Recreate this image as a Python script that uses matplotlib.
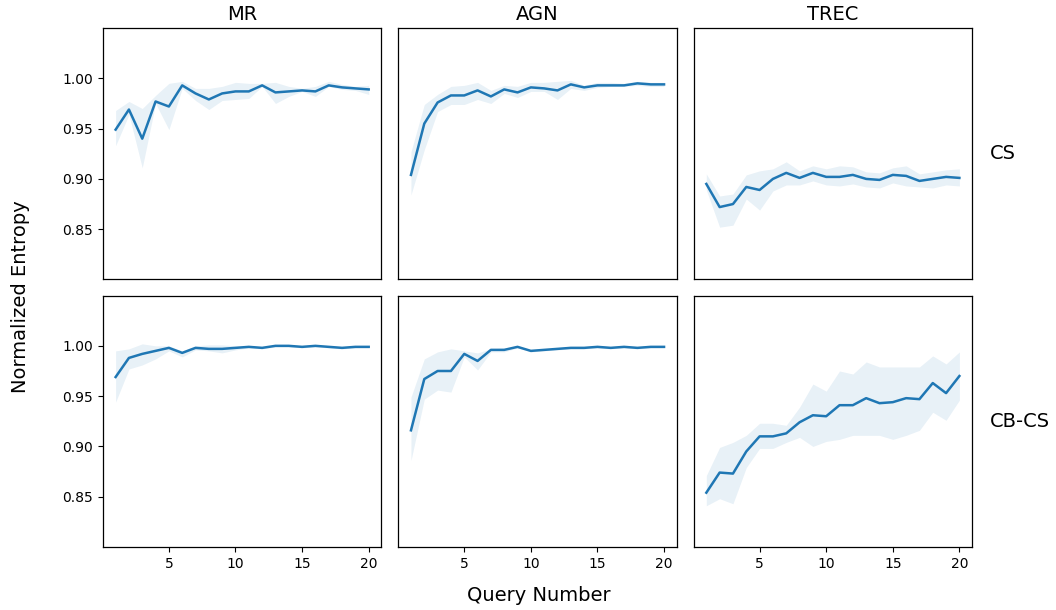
import numpy as np
import matplotlib
matplotlib.use("Agg")
import matplotlib.pyplot as plt

queries = list(range(1, 21))
datasets = ["MR", "AGN", "TREC"]
methods = ["CS", "CB-CS"]

# CS row
mr_cs_mean = [0.949, 0.969, 0.940, 0.977, 0.972, 0.993, 0.985, 0.979, 0.985, 0.987,
              0.987, 0.993, 0.986, 0.987, 0.988, 0.987, 0.993, 0.991, 0.990, 0.989]
mr_cs_low = [0.933, 0.964, 0.911, 0.975, 0.949, 0.990, 0.978, 0.969, 0.978, 0.979,
             0.980, 0.992, 0.975, 0.982, 0.987, 0.982, 0.992, 0.989, 0.988, 0.984]
mr_cs_high = [0.968, 0.977, 0.970, 0.983, 0.995, 0.997, 0.990, 0.990, 0.992, 0.996,
              0.995, 0.995, 0.996, 0.992, 0.990, 0.992, 0.997, 0.994, 0.992, 0.993]

agn_cs_mean = [0.904, 0.955, 0.976, 0.983, 0.983, 0.988, 0.982, 0.989, 0.986, 0.991,
               0.990, 0.988, 0.994, 0.991, 0.993, 0.993, 0.993, 0.995, 0.994, 0.994]
agn_cs_low = [0.884, 0.929, 0.967, 0.974, 0.974, 0.979, 0.975, 0.985, 0.981, 0.987,
              0.987, 0.979, 0.990, 0.988, 0.991, 0.992, 0.992, 0.993, 0.992, 0.992]
agn_cs_high = [0.927, 0.974, 0.984, 0.992, 0.993, 0.996, 0.988, 0.993, 0.992, 0.996,
               0.996, 0.997, 0.998, 0.993, 0.996, 0.996, 0.995, 0.997, 0.996, 0.996]

trec_cs_mean = [0.895, 0.872, 0.875, 0.892, 0.889, 0.900, 0.906, 0.901, 0.906, 0.902,
                0.902, 0.904, 0.900, 0.899, 0.904, 0.903, 0.898, 0.900, 0.902, 0.901]
trec_cs_low = [0.889, 0.852, 0.854, 0.880, 0.869, 0.888, 0.894, 0.894, 0.898, 0.894,
               0.893, 0.895, 0.892, 0.891, 0.896, 0.893, 0.892, 0.891, 0.894, 0.893]
trec_cs_high = [0.905, 0.883, 0.885, 0.904, 0.908, 0.910, 0.917, 0.908, 0.913, 0.910,
                0.913, 0.912, 0.907, 0.906, 0.911, 0.913, 0.905, 0.907, 0.909, 0.910]

# CB-CS row
mr_cbcs_mean = [0.969, 0.988, 0.992, 0.995, 0.998, 0.993, 0.998, 0.997, 0.997, 0.998,
                0.999, 0.998, 1.000, 1.000, 0.999, 1.000, 0.999, 0.998, 0.999, 0.999]
mr_cbcs_low = [0.944, 0.977, 0.981, 0.987, 0.995, 0.989, 0.996, 0.995, 0.993, 0.996,
               0.998, 0.997, 0.999, 0.999, 0.998, 0.999, 0.998, 0.997, 0.998, 0.998]
mr_cbcs_high = [0.995, 0.997, 1.002, 1.000, 1.000, 0.995, 1.000, 1.001, 1.001, 1.000,
                1.000, 0.999, 1.001, 1.001, 1.000, 1.001, 1.000, 0.999, 1.000, 1.000]

agn_cbcs_mean = [0.916, 0.967, 0.975, 0.975, 0.992, 0.985, 0.996, 0.996, 0.999, 0.995,
                 0.996, 0.997, 0.998, 0.998, 0.999, 0.998, 0.999, 0.998, 0.999, 0.999]
agn_cbcs_low = [0.886, 0.947, 0.956, 0.954, 0.989, 0.976, 0.994, 0.994, 0.998, 0.994,
                0.995, 0.996, 0.997, 0.997, 0.998, 0.997, 0.998, 0.997, 0.998, 0.998]
agn_cbcs_high = [0.949, 0.987, 0.994, 0.997, 0.995, 0.993, 0.997, 0.998, 1.000, 0.996,
                 0.997, 0.998, 0.999, 0.999, 1.000, 0.999, 1.000, 0.999, 1.000, 1.000]

trec_cbcs_mean = [0.854, 0.874, 0.873, 0.895, 0.910, 0.910, 0.913, 0.924, 0.931, 0.930,
                  0.941, 0.941, 0.948, 0.943, 0.944, 0.948, 0.947, 0.963, 0.953, 0.970]
trec_cbcs_low = [0.841, 0.848, 0.843, 0.879, 0.898, 0.898, 0.904, 0.909, 0.900, 0.905,
                 0.907, 0.911, 0.911, 0.911, 0.907, 0.911, 0.916, 0.934, 0.926, 0.946]
trec_cbcs_high = [0.871, 0.899, 0.904, 0.911, 0.923, 0.923, 0.921, 0.939, 0.962, 0.955,
                  0.975, 0.972, 0.984, 0.979, 0.979, 0.979, 0.979, 0.990, 0.982, 0.994]

y_ticks = [0.85, 0.90, 0.95, 1.00]
x_ticks = [5, 10, 15, 20]

panels = [
    [(mr_cs_mean, mr_cs_low, mr_cs_high),
     (agn_cs_mean, agn_cs_low, agn_cs_high),
     (trec_cs_mean, trec_cs_low, trec_cs_high)],
    [(mr_cbcs_mean, mr_cbcs_low, mr_cbcs_high),
     (agn_cbcs_mean, agn_cbcs_low, agn_cbcs_high),
     (trec_cbcs_mean, trec_cbcs_low, trec_cbcs_high)],
]

color = "#1f77b4"
fig, axes = plt.subplots(2, 3, figsize=(10.56, 6.10), dpi=100, sharex=True, sharey=True)
fig.subplots_adjust(left=0.0975, right=0.9205, top=0.954, bottom=0.1033,
                    wspace=0.061, hspace=0.064)

for r in range(2):
    for c in range(3):
        ax = axes[r, c]
        mean, low, high = panels[r][c]
        ax.fill_between(queries, low, high, color=color, alpha=0.1, linewidth=0)
        ax.plot(queries, mean, color=color, linewidth=1.8)
        ax.set_ylim(0.80, 1.05)
        ax.set_yticks(y_ticks)
        ax.set_xticks(x_ticks)
        ax.tick_params(labelsize=10, length=3.5, width=0.8)
        if c != 0:
            ax.tick_params(left=False, labelleft=False)
        else:
            ax.set_yticklabels([f"{v:.2f}" for v in y_ticks])
        if r != 1:
            ax.tick_params(bottom=False, labelbottom=False)
        for s in ax.spines.values():
            s.set_linewidth(0.9)
        if r == 0:
            ax.set_title(datasets[c], fontsize=14)
        if c == 2:
            ax.text(1.065, 0.5, methods[r], transform=ax.transAxes,
                    fontsize=14, va="center", ha="left")

fig.text(0.51, 0.023, "Query Number", ha="center", va="center", fontsize=14)
fig.text(0.019, 0.513, "Normalized Entropy", ha="center", va="center",
         rotation=90, fontsize=14)

fig.savefig("out.png", dpi=100)
